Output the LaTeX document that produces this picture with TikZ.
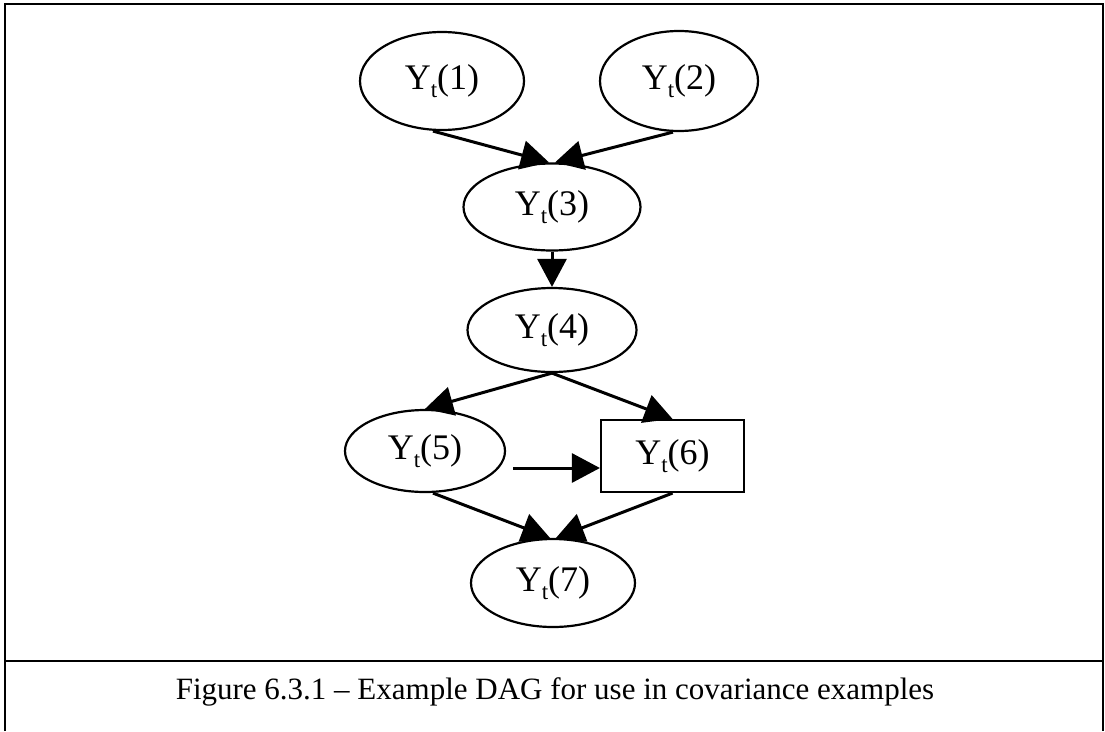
\documentclass[tikz,border=0pt]{standalone}
\usepackage{fontspec}
\setmainfont{Liberation Serif}
\usetikzlibrary{shapes.geometric,arrows.meta}
% variable label Y_t(k) with a lowered small t
\newcommand{\ytlabel}[1]{Y\raisebox{-8pt}{\fontsize{23}{23}\selectfont t}(#1)}

\begin{document}
\begin{tikzpicture}[x=1pt,y=-1pt,
  oval/.style={ellipse,draw,line width=2.2pt,inner sep=0pt,
    font=\fontsize{36}{42}\selectfont},
  boxnode/.style={rectangle,draw,line width=2.2pt,inner sep=0pt,
    font=\fontsize{36}{42}\selectfont},
  link/.style={line width=3pt,-{Triangle[length=28pt,width=29pt]}},
  frameline/.style={line width=2.8pt}]
\useasboundingbox (0,0) rectangle (1105,731);

% frame and caption divider
\draw[frameline] (5,731) -- (5,4) -- (1103,4) -- (1103,731);
\draw[frameline] (5,661) -- (1103,661);

% nodes
\node[oval,minimum width=164pt,minimum height=98pt] (y1) at (442,81) {\ytlabel{1}};
\node[oval,minimum width=158pt,minimum height=100pt] (y2) at (679,81) {\ytlabel{2}};
\node[oval,minimum width=177pt,minimum height=87pt] (y3) at (552,207) {\ytlabel{3}};
\node[oval,minimum width=169pt,minimum height=84pt] (y4) at (552,330) {\ytlabel{4}};
\node[oval,minimum width=160pt,minimum height=82pt] (y5) at (425,451) {\ytlabel{5}};
\node[boxnode,minimum width=143pt,minimum height=72pt] (y6) at (672.5,456) {\ytlabel{6}};
\node[oval,minimum width=164pt,minimum height=88pt] (y7) at (553,583) {\ytlabel{7}};

% edges
\draw[link] ([xshift=-9pt]y1.south) -- ([xshift=-3pt]y3.north);
\draw[link] ([xshift=-6pt]y2.south) -- ([xshift=3pt]y3.north);
\draw[link] (y3.south) -- (y4.north);
\draw[link] (y4.south) -- (y5.north);
\draw[link] (y4.south) -- (y6.north);
\draw[link] ([xshift=7pt,yshift=-17pt]y5.east) coordinate (a56) -- (a56 -| y6.west);
\draw[link] ([xshift=8pt]y5.south) -- ([xshift=-3pt]y7.north);
\draw[link] (y6.south) -- ([xshift=3pt]y7.north);

% caption
\node[anchor=base,font=\fontsize{31}{36}\selectfont] (cap) at (555,699)
  {Figure 6.3.1 -- Example DAG for use in covariance examples};
\end{tikzpicture}
\end{document}
